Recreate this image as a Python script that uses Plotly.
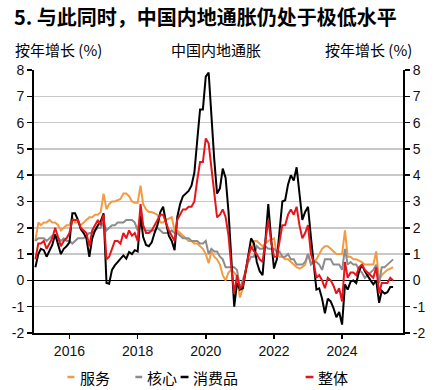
import pandas as pd
import plotly.graph_objects as go

# ---------------- data (monthly, Jan 2015 - Jul 2025) ----------------
start_month = "2015-01-01"
n_months = 127

services = [
    1.5, 2.2, 2.1, 2.2, 2.2, 2.3, 2.2, 2.2, 2.1, 1.9, 2.0, 2.1,
    2.1, 2.4, 2.2, 2.2, 2.1, 2.2, 2.3, 2.4, 2.4, 2.5, 2.5, 2.6,
    3.3, 2.7, 2.9, 3.0, 3.0, 3.05, 3.1, 3.3, 3.3, 3.2, 3.0, 2.95,
    2.95, 3.6, 2.9, 2.7, 2.6, 2.6, 2.55, 2.5, 2.2, 2.2, 2.3, 2.35,
    2.4, 1.9, 1.9, 1.8, 1.7, 1.6, 1.5, 1.5, 1.4, 1.4, 1.3, 1.2,
    1.0, 0.65, 1.1, 0.9, 0.8, 0.6, 0.2, 0.0, 0.3, 0.4, 0.3, 0.15,
    -0.65, -0.3, 0.3, 0.9, 1.2, 1.5, 1.5, 1.4, 1.3, 1.4, 1.5, 1.55,
    1.6, 1.0, 0.9, 0.9, 0.8, 0.8, 0.7, 0.6, 0.5, 0.45, 0.5, 0.6,
    1.0, 0.7, 0.7, 0.8, 1.0, 1.2, 1.3, 1.3, 1.2, 1.1, 1.0, 1.0,
    1.0, 1.9, 0.9, 0.9, 0.8, 0.8, 0.75, 0.7, 0.6, 0.6, 0.6, 0.6,
    1.1, 0.0, 0.2, 0.3, 0.4, 0.45, 0.5,
]

core = [
    1.5, 1.6, 1.6, 1.6, 1.5, 1.6, 1.7, 1.7, 1.6, 1.5, 1.6, 1.5,
    1.5, 1.4, 1.5, 1.6, 1.6, 1.6, 1.7, 1.8, 1.8, 1.9, 2.0, 2.0,
    2.2, 1.9, 2.0, 2.1, 2.1, 2.2, 2.2, 2.2, 2.3, 2.3, 2.3, 2.2,
    1.9, 2.5, 2.0, 1.9, 1.9, 1.9, 1.9, 2.0, 1.9, 1.8, 1.8, 1.8,
    1.9, 1.8, 1.8, 1.7, 1.6, 1.6, 1.6, 1.5, 1.5, 1.5, 1.4, 1.4,
    1.5, 1.0, 1.2, 1.1, 1.1, 0.9, 0.8, 0.5, 0.5, 0.5, 0.5, 0.4,
    -0.3, 0.0, 0.3, 0.7, 0.9, 0.9, 1.3, 1.2, 1.2, 1.3, 1.2, 1.2,
    1.2, 1.1, 1.1, 0.9, 0.9, 1.0, 0.8, 0.8, 0.6, 0.6, 0.6, 0.7,
    1.0, 0.6, 0.7, 0.7, 0.6, 0.4, 0.8, 0.8, 0.8, 0.6, 0.6, 0.6,
    0.4, 1.2, 0.6, 0.7, 0.6, 0.6, 0.4, 0.3, 0.1, 0.2, 0.3, 0.4,
    0.6, -0.1, 0.5, 0.5, 0.6, 0.7, 0.8,
]

consumer_goods = [
    0.5, 1.0, 1.2, 1.15, 0.9, 1.1, 1.35, 1.75, 1.35, 1.0, 1.2, 1.3,
    1.45, 2.55, 2.55, 2.3, 1.95, 1.8, 1.6, 0.9, 1.6, 1.9, 2.1, 2.25,
    2.55, -0.1, -0.13, 0.4, 0.57, 0.7, 0.8, 0.95, 0.83, 1.08, 1.0, 1.15,
    1.1, 2.45, 1.65, 1.35, 1.3, 1.45, 1.8, 2.1, 2.6, 2.8, 2.2, 1.7,
    1.5, 1.15, 2.4, 2.9, 3.2, 3.3, 3.4, 3.6, 4.1, 5.3, 6.5, 6.5,
    7.75, 7.9, 6.2, 4.6, 3.3, 3.5, 4.25, 3.9, 2.6, 0.8, -1.0, -0.1,
    -0.35, -0.3, 0.3, 1.0, 1.6, 1.4, 0.7, 0.35, 0.2, 1.5, 2.9, 1.6,
    0.45, 0.8, 1.8, 3.0, 3.05, 3.65, 4.0, 3.8, 4.3, 3.25, 2.3, 2.6,
    2.8, 1.65, 0.6, -0.35, -0.3, -0.7, -1.25, -0.7, -0.8, -1.05, -1.4, -1.2,
    -1.68, -0.15, -0.35, -0.05, 0.0, -0.1, 0.35, 0.6, 0.35, 0.15, 0.0, -0.15,
    0.0, -0.85, -0.4, -0.5, -0.45, -0.25, -0.25,
]

headline = [
    0.8, 1.4, 1.4, 1.5, 1.2, 1.4, 1.6, 2.0, 1.6, 1.3, 1.5, 1.6,
    1.8, 2.3, 2.3, 2.3, 2.0, 1.9, 1.8, 1.3, 1.9, 2.1, 2.3, 2.1,
    2.5, 0.8, 0.9, 1.2, 1.5, 1.5, 1.4, 1.8, 1.6, 1.9, 1.7, 1.8,
    1.5, 2.9, 2.1, 1.8, 1.8, 1.9, 2.1, 2.3, 2.5, 2.5, 2.2, 1.9,
    1.7, 1.5, 2.3, 2.5, 2.7, 2.7, 2.8, 2.8, 3.0, 3.8, 4.5, 4.5,
    5.4, 5.2, 4.3, 3.3, 2.4, 2.5, 2.7, 2.4, 1.7, 0.5, -0.5, 0.2,
    -0.3, -0.2, 0.4, 0.9, 1.3, 1.1, 1.0, 0.8, 0.7, 1.5, 2.3, 1.5,
    0.9, 0.9, 1.5, 2.1, 2.1, 2.5, 2.7, 2.5, 2.8, 2.1, 1.6, 1.8,
    2.1, 1.0, 0.7, 0.1, 0.2, 0.0, -0.3, 0.1, 0.0, -0.2, -0.5, -0.3,
    -0.8, 0.7, 0.1, 0.3, 0.3, 0.2, 0.5, 0.6, 0.4, 0.3, 0.2, 0.1,
    0.5, -0.5, -0.1, -0.1, -0.1, 0.1, 0.0,
]

x_tick_years = ["2016", "2018", "2020", "2022", "2024"]
y_ticks = [-2, -1, 0, 1, 2, 3, 4, 5, 6, 7, 8]

series_names = ["服务", "核心", "消费品", "整体"]
series_colors = ["#F39A43", "#8C8C8C", "#000000", "#E8141B"]

title_text = "5. 与此同时，中国内地通胀仍处于极低水平"
left_unit = "按年增长 (%)"
center_label = "中国内地通胀"
right_unit = "按年增长 (%)"

# ---------------- figure ----------------
dates = pd.date_range(start_month, periods=n_months, freq="MS")

CJK = "Noto Sans CJK SC, Noto Sans, sans-serif"
LAT = "Liberation Sans, Arial, Noto Sans CJK SC, sans-serif"

fig = go.Figure()
all_series = [services, core, consumer_goods, headline]
for i, (name, vals, col) in enumerate(zip(series_names, all_series, series_colors)):
    fig.add_trace(go.Scatter(
        x=dates, y=vals, mode="lines", name=name,
        line=dict(color=col, width=2),
        yaxis="y2" if i == 3 else "y",
        showlegend=False, hoverinfo="skip",
    ))

ax_common = dict(
    range=[-2, 8], tickvals=y_ticks, ticktext=[str(v) for v in y_ticks],
    ticks="outside", ticklen=5, tickwidth=1.5, tickcolor="black",
    showline=True, linecolor="black", linewidth=2,
    tickfont=dict(family=LAT, size=14, color="#111111"),
    fixedrange=True,
)

fig.update_layout(
    width=437, height=390,
    margin=dict(l=28, r=34, t=70, b=57),
    paper_bgcolor="white", plot_bgcolor="white",
    showlegend=False,
    xaxis=dict(
        range=["2014-12-17", "2025-10-15"],
        tickvals=[pd.Timestamp(y + "-01-01") for y in x_tick_years],
        ticktext=x_tick_years,
        ticks="outside", ticklen=4, tickwidth=1.5, tickcolor="black",
        showline=True, linecolor="black", linewidth=2,
        showgrid=False, zeroline=False, fixedrange=True,
        tickfont=dict(family=LAT, size=14, color="#111111"),
    ),
    yaxis=dict(
        **ax_common,
        showgrid=True, gridcolor="#C8C8C8", gridwidth=1.5,
        zeroline=True, zerolinecolor="black", zerolinewidth=1.5,
    ),
    yaxis2=dict(
        **ax_common,
        overlaying="y", side="right",
        showgrid=False, zeroline=False,
    ),
)

def px_x(px):
    return (px - 28) / 375.0

def px_y(py):
    return (333 - py) / 263.0

annotations = [
    dict(text="<b>" + title_text + "</b>", x=px_x(6), y=px_y(16), xanchor="left", yanchor="middle",
         font=dict(family=CJK, size=20, color="black")),
    dict(text=left_unit, x=px_x(7), y=px_y(49), xanchor="left", yanchor="middle",
         font=dict(family=CJK, size=15, color="black")),
    dict(text=center_label, x=px_x(213), y=px_y(49), xanchor="center", yanchor="middle",
         font=dict(family=CJK, size=15, color="black")),
    dict(text=right_unit, x=px_x(414), y=px_y(49), xanchor="right", yanchor="middle",
         font=dict(family=CJK, size=15, color="black")),
]

legend_dash = [(62, 69), (131, 138), (177, 185), (304, 312)]
legend_text_x = [73, 141, 188, 315]
shapes = []
for (x0, x1), tx, name, col in zip(legend_dash, legend_text_x, series_names, series_colors):
    shapes.append(dict(type="line", xref="paper", yref="paper",
                       x0=px_x(x0), x1=px_x(x1), y0=px_y(377), y1=px_y(377),
                       line=dict(color=col, width=2.5)))
    annotations.append(dict(text=name, x=px_x(tx), y=px_y(377), xanchor="left", yanchor="middle",
                            font=dict(family=CJK, size=15, color="black")))

for a in annotations:
    a.update(xref="paper", yref="paper", showarrow=False)

fig.update_layout(annotations=annotations, shapes=shapes)

fig.write_html("out.html", config={"displayModeBar": False, "staticPlot": True})

# remove the default page margin so the figure sits at the window's top-left corner
with open("out.html", "r", encoding="utf-8") as f:
    html = f.read()
html = html.replace("<head>", "<head><style>html,body{margin:0;padding:0;overflow:hidden;}</style>", 1)
with open("out.html", "w", encoding="utf-8") as f:
    f.write(html)
